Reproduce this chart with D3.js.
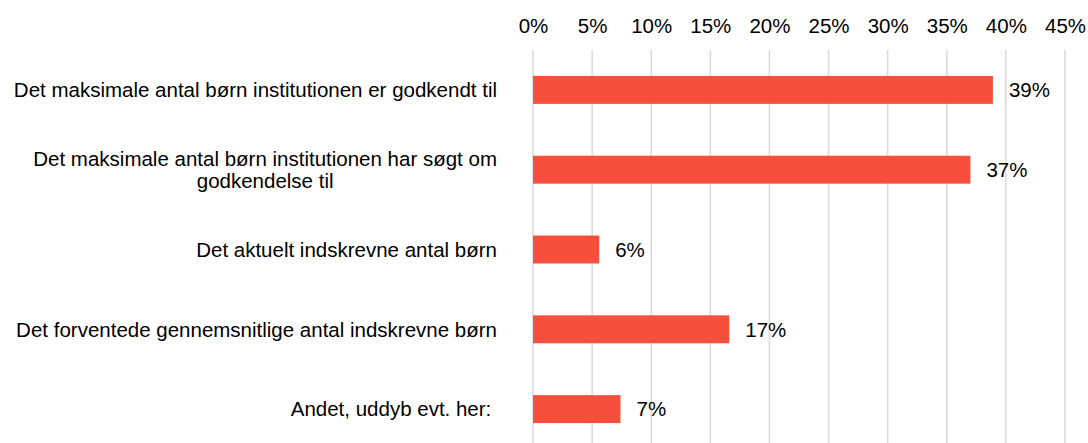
<!DOCTYPE html>
<html>
<head>
<meta charset="utf-8">
<script src="https://cdn.jsdelivr.net/npm/d3@7"></script>
<style>
  html, body { margin: 0; padding: 0; background: #fff; }
  text { font-family: "Liberation Sans", Arial, sans-serif; fill: #000; }
</style>
</head>
<body>
<div id="chart"></div>
<script>
// categories (top to bottom), wrapped lines as Excel shows them
const categories = [
  ['Det maksimale antal børn institutionen er godkendt til'],
  ['Det maksimale antal børn institutionen har søgt om', 'godkendelse til'],
  ['Det aktuelt indskrevne antal børn'],
  ['Det forventede gennemsnitlige antal indskrevne børn'],
  ['Andet, uddyb evt. her: ']
];
// percent values
const values = [38.9, 37.0, 5.6, 16.6, 7.4];
const tickValues = [0, 5, 10, 15, 20, 25, 30, 35, 40, 45];

const width = 1088;
const height = 443;
const fontSize = 20.5;
const plot = { left: 533, right: 1065, top: 50, bottom: 449 };

const svg = d3.select('#chart')
  .append('svg')
  .attr('width', width)
  .attr('height', height);

const x = d3.scaleLinear().domain([0, 45]).range([plot.left, plot.right]);
const y = d3.scaleBand()
  .domain(d3.range(categories.length))
  .range([plot.top, plot.bottom])
  .paddingInner(0.65)
  .paddingOuter(0.325);

// vertical gridlines
svg.append('g')
  .selectAll('line')
  .data(tickValues)
  .enter()
  .append('line')
  .attr('x1', (d) => x(d))
  .attr('x2', (d) => x(d))
  .attr('y1', plot.top)
  .attr('y2', plot.bottom)
  .attr('stroke', '#d9d9d9')
  .attr('stroke-width', 1.5);

// top axis labels
const axis = svg.append('g')
  .attr('transform', `translate(0,${plot.top - 17})`)
  .call(d3.axisTop(x).tickValues(tickValues).tickFormat((d) => d + '%').tickSize(0));
axis.select('.domain').remove();
axis.selectAll('text')
  .attr('y', 0)
  .attr('dy', 0)
  .style('font-size', fontSize + 'px')
  .style('font-family', '"Liberation Sans", Arial, sans-serif');

// bars
svg.append('g')
  .selectAll('rect')
  .data(values)
  .enter()
  .append('rect')
  .attr('x', x(0))
  .attr('y', (d, i) => y(i))
  .attr('width', (d) => x(d) - x(0))
  .attr('height', y.bandwidth())
  .attr('fill', '#f84e3c');

// value labels
svg.append('g')
  .selectAll('text')
  .data(values)
  .enter()
  .append('text')
  .attr('x', (d) => x(d) + 16)
  .attr('y', (d, i) => y(i) + y.bandwidth() / 2)
  .attr('dy', '0.36em')
  .style('font-size', fontSize + 'px')
  .text((d) => Math.round(d) + '%');

// category labels, right aligned; wrapped ones are centred like Excel does
const lineH = 22.5;
const labelRight = 497;
const labels = svg.append('g')
  .selectAll('text')
  .data(categories)
  .enter()
  .append('text')
  .style('font-size', fontSize + 'px')
  .style('white-space', 'pre')
  .attr('y', (d, i) => y(i) + y.bandwidth() / 2 - (d.length - 1) * lineH / 2)
  .attr('dy', '0.36em');

labels.each(function (lines) {
  const t = d3.select(this);
  if (lines.length === 1) {
    t.attr('x', labelRight).attr('text-anchor', 'end').text(lines[0]);
    return;
  }
  // measure widest line to find the centre of the text block
  t.attr('text-anchor', 'middle');
  const tmp = t.append('tspan').text(lines[0]);
  const w = tmp.node().getComputedTextLength();
  tmp.remove();
  const cx = labelRight - w / 2;
  t.attr('x', cx);
  lines.forEach((line, k) => {
    t.append('tspan')
      .attr('x', cx)
      .attr('dy', k === 0 ? '0.36em' : lineH)
      .text(line);
  });
  t.attr('dy', null);
});
</script>
</body>
</html>
